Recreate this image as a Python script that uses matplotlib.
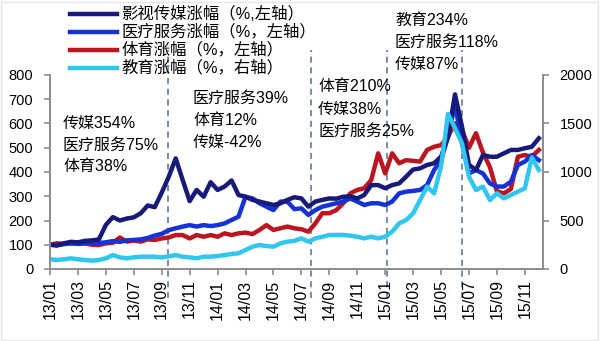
import numpy as np
import matplotlib
matplotlib.use('Agg')
import matplotlib.pyplot as plt
from matplotlib.lines import Line2D
from matplotlib.patches import Rectangle

plt.rcParams['font.family'] = ['Liberation Sans', 'Noto Sans CJK SC', 'DejaVu Sans']

# half-month steps starting 2013/01
months = np.arange(0, 35.01, 0.5)
tick_labels = ['13/01', '13/03', '13/05', '13/07', '13/09', '13/11',
               '14/01', '14/03', '14/05', '14/07', '14/09', '14/11',
               '15/01', '15/03', '15/05', '15/07', '15/09', '15/11']

media = [100, 97, 106, 112, 110, 116, 118, 122, 182, 214,
         200, 208, 213, 230, 262, 255, 315, 380, 456, 367,
         280, 326, 298, 358, 326, 340, 365, 305, 298, 285,
         278, 271, 264, 271, 285, 296, 291, 257, 278, 285,
         291, 290, 298, 300, 291, 305, 346, 346, 333, 346,
         353, 381, 410, 415, 429, 436, 463, 546, 720, 587,
         430, 408, 470, 463, 463, 477, 491, 491, 498, 504, 539]
medical = [100, 98, 103, 105, 104, 106, 108, 107, 110, 115,
           112, 118, 120, 122, 128, 138, 145, 160, 168, 175,
           181, 175, 181, 177, 181, 188, 202, 216, 298, 291,
           271, 257, 243, 278, 278, 247, 250, 223, 243, 257,
           264, 271, 278, 291, 278, 264, 271, 271, 264, 278,
           312, 319, 322, 326, 346, 408, 449, 546, 680, 518,
           394, 408, 394, 353, 340, 340, 360, 429, 443, 470, 449]
sports = [100, 106, 103, 109, 103, 106, 100, 99, 106, 108,
          130, 113, 117, 113, 122, 120, 126, 130, 140, 140,
          126, 140, 133, 140, 133, 147, 140, 147, 150, 144,
          161, 181, 161, 168, 175, 168, 164, 154, 188, 230,
          230, 243, 271, 312, 326, 333, 367, 477, 394, 477,
          436, 449, 446, 443, 491, 504, 511, 546, 601, 573,
          500, 560, 480, 420, 320, 312, 330, 463, 470, 463, 491]
education = [100, 93, 100, 110, 100, 93, 86, 93, 110, 144,
             120, 110, 120, 127, 127, 127, 120, 130, 144, 127,
             120, 110, 127, 127, 134, 144, 155, 162, 196, 230,
             247, 237, 230, 265, 282, 290, 316, 282, 316, 333,
             351, 351, 351, 344, 333, 316, 333, 316, 333, 385,
             471, 505, 574, 711, 849, 780, 1055, 1600, 1450, 1296,
             952, 814, 849, 711, 780, 728, 763, 797, 832, 1150, 1021]

# split dates between the periods (in months from 2013/01)
periods = [8.45, 18.7, 24.1, 29.5]

notes = [
    (63, 123, ['传媒354%', '医疗服务75%', '体育38%']),
    (193, 98, ['医疗服务39%', '体育12%', '传媒-42%']),
    (318, 87, ['体育210%', '传媒38%', '医疗服务25%']),
    (395, 20, ['教育234%', '医疗服务118%', '传媒87%']),
]

names = ['影视传媒涨幅（%,左轴）', '医疗服务涨幅（%，左轴）', '体育涨幅（%，左轴）', '教育涨幅（%，右轴）']
colors = ['#171a78', '#1432d6', '#bd1520', '#2fc6ef']

W, H = 600, 341
fig = plt.figure(figsize=(W / 100, H / 100), dpi=100)
ax = fig.add_axes([50 / W, 1 - 269 / H, 493 / W, 194 / H])
ax2 = ax.twinx()

ax.plot(months, sports, color=colors[2], lw=3.2)
ax.plot(months, medical, color=colors[1], lw=3.2)
ax.plot(months, media, color=colors[0], lw=3.2)
ax2.plot(months, education, color=colors[3], lw=3.2)

ax.set_xlim(0, 35.3)
ax.set_ylim(0, 800)
ax2.set_ylim(0, 2000)
ax.set_yticks(range(0, 801, 100))
ax2.set_yticks(range(0, 2001, 500))
ax.set_xticks(range(0, 35, 2))
ax.set_xticklabels(tick_labels, rotation=90, fontsize=11.5)

for a in (ax, ax2):
    a.spines['top'].set_visible(False)
    for s in ('left', 'right', 'bottom'):
        a.spines[s].set_color('#8c8c8c')
        a.spines[s].set_linewidth(1.2)
    a.tick_params(colors='#8c8c8c', labelcolor='black', length=4, width=1.2)
    a.tick_params(axis='y', labelsize=10.5, pad=8)

# dashed separators running past the plot area
for p in periods:
    ax.axvline(p, ymin=-0.15, ymax=1.13, color='#4f6f90', lw=1.1,
               ls=(0, (4, 3)), clip_on=False, zorder=0)

# period annotations
for x, y, lines in notes:
    for i, t in enumerate(lines):
        fig.text(x / W, 1 - (y + i * 22) / H, t, fontsize=11.5, va='center', ha='left')

# legend drawn by hand in the top-left corner
for i, (c, n) in enumerate(zip(colors, names)):
    y = 1 - (14 + i * 18) / H
    fig.add_artist(Line2D([70 / W, 117 / W], [y, y], color=c, lw=3.2, transform=fig.transFigure))
    fig.text(121 / W, y, n, fontsize=11.8, va='center', ha='left')

fig.patches.append(Rectangle((0.002, 0.003), 0.995, 0.992, transform=fig.transFigure,
                             fill=False, edgecolor='#e6e6e6', lw=1))

fig.savefig('out.png', dpi=100)
